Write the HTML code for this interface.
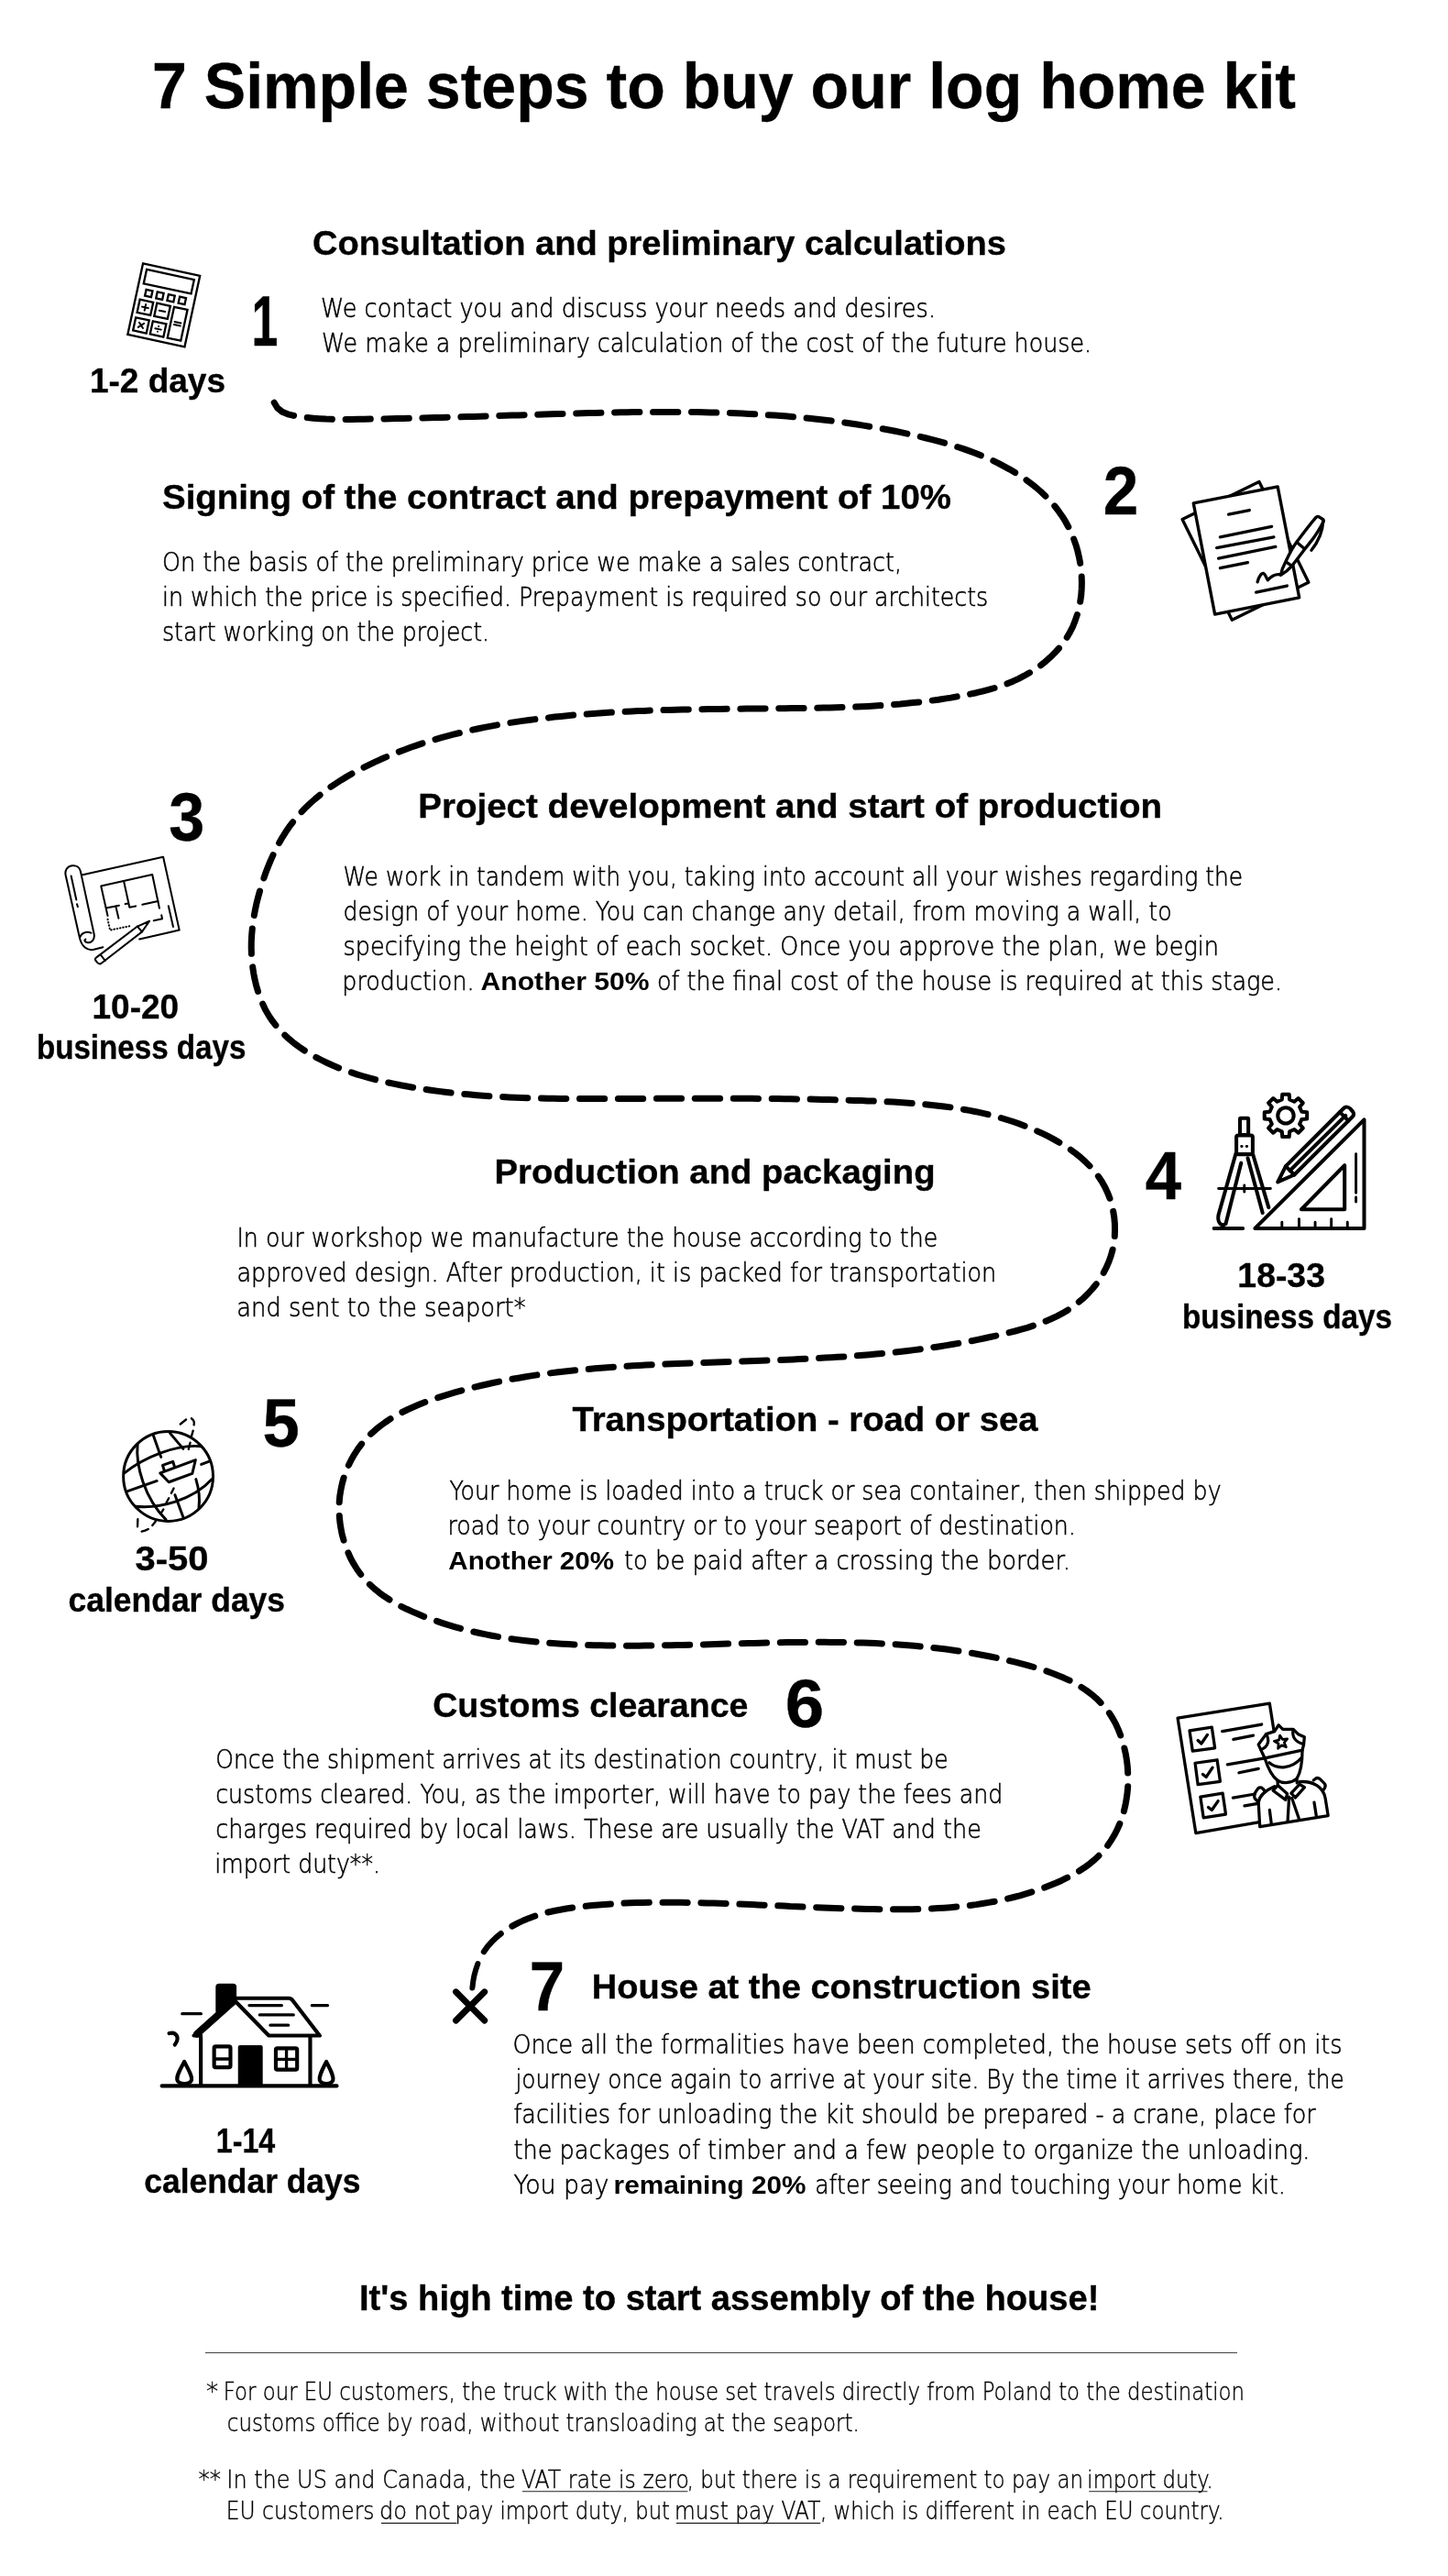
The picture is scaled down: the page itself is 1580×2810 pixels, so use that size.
<!DOCTYPE html>
<html lang="en"><head><meta charset="utf-8"><title>7 Simple steps to buy our log home kit</title>
<style>html,body{margin:0;padding:0;background:#fff}svg{display:block}text{font-family:"Liberation Sans",Arial,sans-serif;fill:#000;white-space:pre}svg{filter:grayscale(1)}.b{font-weight:700;stroke:#000;stroke-width:.35}.r{font-family:"DejaVu Sans Light","DejaVu Sans","Liberation Sans",sans-serif;font-weight:200;fill:#000;stroke:#000;stroke-width:.55}.k{font-weight:700}.f{stroke-width:.4}</style></head><body>
<svg width="1580" height="2810" viewBox="0 0 1580 2810">
<rect width="1580" height="2810" fill="#fff"/>
<g id="route" fill="none" stroke="#000" stroke-linecap="round" stroke-linejoin="round">
<path stroke-width="7.0" d="M299.2 439.2L302.7 445.0L307.9 449.2L314.1 451.8L320.6 453.4"/>
<path stroke-width="7.0" d="M335.2 455.6L342.0 456.2L348.8 456.7L355.6 457.1L362.4 457.3"/>
<path stroke-width="7.0" d="M377.1 457.4L383.9 457.4L390.7 457.3L397.5 457.2L404.3 457.1"/>
<path stroke-width="7.0" d="M419.0 456.9L425.8 456.7L432.6 456.6L439.4 456.4L446.3 456.3"/>
<path stroke-width="7.0" d="M460.9 455.9L467.8 455.8L474.6 455.6L481.4 455.4L488.2 455.2"/>
<path stroke-width="7.0" d="M502.9 454.8L509.7 454.6L516.5 454.4L523.3 454.2L530.1 454.0"/>
<path stroke-width="7.0" d="M544.8 453.5L551.6 453.3L558.4 453.1L565.2 452.9L572.1 452.7"/>
<path stroke-width="7.0" d="M586.7 452.2L593.5 452.0L600.4 451.8L607.2 451.6L614.0 451.4"/>
<path stroke-width="7.0" d="M628.7 451.0L635.5 450.8L642.3 450.6L649.1 450.4L655.9 450.3"/>
<path stroke-width="7.0" d="M670.6 450.0L677.4 449.8L684.2 449.7L691.0 449.6L697.9 449.5"/>
<path stroke-width="7.0" d="M712.5 449.4L719.4 449.4L726.2 449.4L733.0 449.4L739.8 449.4"/>
<path stroke-width="7.0" d="M754.5 449.5L761.3 449.6L768.1 449.8L774.9 449.9L781.8 450.1"/>
<path stroke-width="7.0" d="M796.4 450.5L803.2 450.8L810.0 451.1L816.9 451.4L823.7 451.8"/>
<path stroke-width="7.0" d="M838.3 452.7L845.1 453.1L851.9 453.6L858.7 454.1L865.5 454.7"/>
<path stroke-width="7.0" d="M880.1 456.1L886.9 456.8L893.7 457.5L900.5 458.3L907.2 459.1"/>
<path stroke-width="7.0" d="M921.8 461.0L928.5 462.0L935.3 463.0L942.0 464.1L948.7 465.2"/>
<path stroke-width="7.0" d="M963.2 467.8L969.9 469.0L976.6 470.3L983.2 471.7L989.9 473.1"/>
<path stroke-width="7.0" d="M1004.2 476.4L1010.9 478.0L1017.5 479.7L1024.1 481.4L1030.6 483.2"/>
<path stroke-width="7.0" d="M1044.7 487.5L1051.2 489.6L1057.6 491.9L1064.0 494.2L1070.3 496.8"/>
<path stroke-width="7.0" d="M1083.8 502.7L1089.9 505.6L1095.9 508.8L1101.9 512.1L1107.7 515.6"/>
<path stroke-width="7.0" d="M1120.0 523.7L1125.4 527.8L1130.8 532.0L1135.9 536.5L1140.9 541.2"/>
<path stroke-width="7.0" d="M1150.8 552.0L1155.0 557.4L1158.9 562.9L1162.5 568.7L1165.8 574.7"/>
<path stroke-width="7.0" d="M1171.7 588.1L1174.0 594.6L1175.9 601.1L1177.4 607.7L1178.7 614.4"/>
<path stroke-width="7.0" d="M1180.2 629.0L1180.4 635.8L1180.2 642.7L1179.7 649.5L1178.7 656.2"/>
<path stroke-width="7.0" d="M1175.4 670.5L1173.2 677.0L1170.7 683.3L1167.6 689.4L1164.2 695.3"/>
<path stroke-width="7.0" d="M1155.5 707.1L1151.0 712.1L1146.1 716.9L1141.0 721.4L1135.6 725.7"/>
<path stroke-width="7.0" d="M1123.5 733.8L1117.5 737.2L1111.5 740.3L1105.3 743.2L1099.0 745.8"/>
<path stroke-width="7.0" d="M1085.1 750.5L1078.5 752.4L1071.9 754.1L1065.3 755.7L1058.6 757.1"/>
<path stroke-width="7.0" d="M1044.2 759.9L1037.5 761.1L1030.8 762.1L1024.0 763.2L1017.3 764.1"/>
<path stroke-width="7.0" d="M1002.7 765.9L995.9 766.6L989.2 767.3L982.4 768.0L975.6 768.5"/>
<path stroke-width="7.0" d="M960.9 769.6L954.1 770.0L947.3 770.4L940.5 770.7L933.7 771.0"/>
<path stroke-width="7.0" d="M919.0 771.6L912.2 771.8L905.4 771.9L898.6 772.1L891.8 772.2"/>
<path stroke-width="7.0" d="M877.1 772.5L870.3 772.6L863.5 772.6L856.6 772.7L849.8 772.8"/>
<path stroke-width="7.0" d="M835.1 772.9L828.3 773.0L821.5 773.0L814.7 773.1L807.9 773.2"/>
<path stroke-width="7.0" d="M793.2 773.3L786.4 773.4L779.6 773.5L772.8 773.6L765.9 773.7"/>
<path stroke-width="7.0" d="M751.3 773.9L744.4 774.1L737.6 774.3L730.8 774.4L724.0 774.6"/>
<path stroke-width="7.0" d="M709.3 775.1L702.5 775.4L695.7 775.6L688.9 775.9L682.1 776.3"/>
<path stroke-width="7.0" d="M667.4 777.1L660.6 777.5L653.8 777.9L647.0 778.4L640.2 778.9"/>
<path stroke-width="7.0" d="M625.6 780.1L618.8 780.8L612.0 781.4L605.2 782.1L598.5 782.9"/>
<path stroke-width="7.0" d="M583.9 784.6L577.1 785.5L570.4 786.4L563.6 787.4L556.9 788.4"/>
<path stroke-width="7.0" d="M542.4 790.9L535.7 792.1L529.0 793.4L522.3 794.8L515.7 796.2"/>
<path stroke-width="7.0" d="M501.4 799.5L494.7 801.2L488.2 802.9L481.6 804.7L475.0 806.6"/>
<path stroke-width="7.0" d="M461.0 810.9L454.5 813.1L448.1 815.3L441.7 817.7L435.3 820.1"/>
<path stroke-width="7.0" d="M421.7 825.6L415.5 828.3L409.3 831.2L403.1 834.1L397.0 837.1"/>
<path stroke-width="7.0" d="M384.0 844.0L378.1 847.4L372.3 850.9L366.6 854.6L360.9 858.4"/>
<path stroke-width="7.0" d="M349.1 867.2L343.9 871.5L338.8 876.0L333.8 880.7L329.1 885.6"/>
<path stroke-width="7.0" d="M319.5 896.8L315.4 902.2L311.6 907.8L308.0 913.6L304.6 919.5"/>
<path stroke-width="7.0" d="M298.0 932.6L295.2 938.9L292.6 945.2L290.1 951.5L287.9 957.9"/>
<path stroke-width="7.0" d="M283.5 972.0L281.7 978.5L280.0 985.1L278.6 991.8L277.3 998.5"/>
<path stroke-width="7.0" d="M275.3 1013.0L274.7 1019.8L274.3 1026.6L274.2 1033.5L274.4 1040.3"/>
<path stroke-width="7.0" d="M275.7 1054.9L276.7 1061.6L278.0 1068.3L279.6 1075.0L281.5 1081.5"/>
<path stroke-width="7.0" d="M286.7 1095.2L289.6 1101.4L293.0 1107.3L296.7 1113.0L300.9 1118.4"/>
<path stroke-width="7.0" d="M310.8 1129.2L315.9 1133.8L321.1 1138.1L326.6 1142.1L332.3 1146.0"/>
<path stroke-width="7.0" d="M344.9 1153.4L351.0 1156.5L357.1 1159.5L363.3 1162.3L369.6 1164.9"/>
<path stroke-width="7.0" d="M383.4 1169.9L389.9 1172.1L396.4 1174.0L403.0 1175.9L409.6 1177.6"/>
<path stroke-width="7.0" d="M423.8 1181.0L430.5 1182.4L437.2 1183.8L443.9 1185.0L450.6 1186.2"/>
<path stroke-width="7.0" d="M465.1 1188.5L471.9 1189.5L478.6 1190.4L485.4 1191.2L492.1 1192.0"/>
<path stroke-width="7.0" d="M506.8 1193.5L513.5 1194.1L520.3 1194.7L527.1 1195.2L533.9 1195.7"/>
<path stroke-width="7.0" d="M548.6 1196.5L555.4 1196.9L562.2 1197.2L569.0 1197.4L575.8 1197.7"/>
<path stroke-width="7.0" d="M590.5 1198.0L597.3 1198.2L604.1 1198.3L611.0 1198.4L617.8 1198.5"/>
<path stroke-width="7.0" d="M632.5 1198.5L639.3 1198.6L646.1 1198.6L652.9 1198.5L659.7 1198.5"/>
<path stroke-width="7.0" d="M674.4 1198.5L681.2 1198.5L688.0 1198.4L694.9 1198.4L701.7 1198.4"/>
<path stroke-width="7.0" d="M716.4 1198.3L723.2 1198.3L730.0 1198.3L736.8 1198.2L743.6 1198.2"/>
<path stroke-width="7.0" d="M758.3 1198.2L765.1 1198.2L771.9 1198.2L778.8 1198.2L785.6 1198.2"/>
<path stroke-width="7.0" d="M800.3 1198.2L807.1 1198.3L813.9 1198.3L820.7 1198.3L827.5 1198.4"/>
<path stroke-width="7.0" d="M842.2 1198.5L849.0 1198.6L855.8 1198.7L862.6 1198.8L869.5 1198.9"/>
<path stroke-width="7.0" d="M884.1 1199.1L891.0 1199.3L897.8 1199.4L904.6 1199.6L911.4 1199.8"/>
<path stroke-width="7.0" d="M926.1 1200.2L932.9 1200.4L939.7 1200.6L946.5 1200.9L953.3 1201.1"/>
<path stroke-width="7.0" d="M968.0 1201.8L974.8 1202.1L981.6 1202.5L988.4 1203.0L995.2 1203.5"/>
<path stroke-width="7.0" d="M1009.8 1204.7L1016.6 1205.4L1023.4 1206.2L1030.2 1207.0L1036.9 1207.9"/>
<path stroke-width="7.0" d="M1051.4 1210.2L1058.1 1211.4L1064.8 1212.7L1071.5 1214.2L1078.1 1215.7"/>
<path stroke-width="7.0" d="M1092.3 1219.5L1098.8 1221.5L1105.3 1223.5L1111.8 1225.8L1118.1 1228.2"/>
<path stroke-width="7.0" d="M1131.7 1233.8L1137.9 1236.7L1144.0 1239.7L1150.0 1242.9L1155.9 1246.3"/>
<path stroke-width="7.0" d="M1168.3 1254.2L1173.8 1258.3L1179.1 1262.5L1184.2 1267.1L1189.0 1271.9"/>
<path stroke-width="7.0" d="M1198.4 1283.1L1202.2 1288.8L1205.6 1294.7L1208.5 1300.9L1211.0 1307.2"/>
<path stroke-width="7.0" d="M1214.7 1321.4L1215.8 1328.1L1216.4 1334.9L1216.5 1341.7L1216.3 1348.6"/>
<path stroke-width="7.0" d="M1214.1 1363.1L1212.3 1369.6L1210.0 1376.1L1207.3 1382.3L1204.2 1388.4"/>
<path stroke-width="7.0" d="M1196.2 1400.7L1191.9 1406.0L1187.3 1411.0L1182.5 1415.8L1177.3 1420.2"/>
<path stroke-width="7.0" d="M1165.4 1428.9L1159.6 1432.4L1153.6 1435.6L1147.4 1438.5L1141.1 1441.2"/>
<path stroke-width="7.0" d="M1127.4 1446.2L1120.9 1448.3L1114.3 1450.2L1107.7 1452.0L1101.1 1453.6"/>
<path stroke-width="7.0" d="M1086.8 1457.1L1080.2 1458.5L1073.5 1460.0L1066.9 1461.4L1060.2 1462.7"/>
<path stroke-width="7.0" d="M1045.7 1465.4L1039.0 1466.5L1032.3 1467.6L1025.6 1468.7L1018.8 1469.7"/>
<path stroke-width="7.0" d="M1004.3 1471.7L997.5 1472.6L990.7 1473.4L984.0 1474.2L977.2 1475.0"/>
<path stroke-width="7.0" d="M962.6 1476.4L955.8 1477.1L949.0 1477.7L942.2 1478.3L935.4 1478.8"/>
<path stroke-width="7.0" d="M920.8 1479.9L914.0 1480.3L907.2 1480.7L900.4 1481.1L893.6 1481.5"/>
<path stroke-width="7.0" d="M878.9 1482.3L872.1 1482.6L865.3 1482.9L858.5 1483.2L851.7 1483.5"/>
<path stroke-width="7.0" d="M837.0 1484.1L830.2 1484.3L823.4 1484.5L816.6 1484.8L809.7 1485.0"/>
<path stroke-width="7.0" d="M795.1 1485.5L788.3 1485.7L781.4 1486.0L774.6 1486.2L767.8 1486.4"/>
<path stroke-width="7.0" d="M753.1 1487.0L746.3 1487.2L739.5 1487.5L732.7 1487.8L725.9 1488.1"/>
<path stroke-width="7.0" d="M711.2 1488.7L704.4 1489.1L697.6 1489.4L690.8 1489.8L684.0 1490.2"/>
<path stroke-width="7.0" d="M669.4 1491.2L662.6 1491.7L655.8 1492.2L649.0 1492.8L642.2 1493.4"/>
<path stroke-width="7.0" d="M627.6 1494.8L620.8 1495.5L614.0 1496.2L607.2 1497.0L600.5 1497.9"/>
<path stroke-width="7.0" d="M585.9 1499.9L579.2 1500.9L572.5 1502.0L565.7 1503.2L559.0 1504.3"/>
<path stroke-width="7.0" d="M544.6 1507.1L537.9 1508.5L531.3 1510.0L524.6 1511.5L518.0 1513.1"/>
<path stroke-width="7.0" d="M503.8 1516.8L497.2 1518.7L490.7 1520.6L484.2 1522.6L477.7 1524.7"/>
<path stroke-width="7.0" d="M463.8 1529.5L457.5 1532.0L451.2 1534.7L445.0 1537.5L438.9 1540.5"/>
<path stroke-width="7.0" d="M426.1 1547.7L420.4 1551.5L414.9 1555.5L409.6 1559.8L404.5 1564.3"/>
<path stroke-width="7.0" d="M394.6 1575.1L390.5 1580.6L386.8 1586.3L383.4 1592.2L380.4 1598.3"/>
<path stroke-width="7.0" d="M375.1 1612.0L373.3 1618.5L371.9 1625.2L370.8 1632.0L370.2 1638.7"/>
<path stroke-width="7.0" d="M370.3 1653.4L370.9 1660.2L371.9 1666.9L373.2 1673.6L375.0 1680.2"/>
<path stroke-width="7.0" d="M380.0 1694.0L382.8 1700.2L386.1 1706.2L389.7 1712.0L393.7 1717.5"/>
<path stroke-width="7.0" d="M403.4 1728.4L408.5 1733.0L413.8 1737.3L419.3 1741.3L425.0 1745.0"/>
<path stroke-width="7.0" d="M437.8 1752.3L443.9 1755.3L450.1 1758.1L456.4 1760.8L462.7 1763.4"/>
<path stroke-width="7.0" d="M476.5 1768.4L482.9 1770.6L489.4 1772.7L495.9 1774.6L502.5 1776.4"/>
<path stroke-width="7.0" d="M516.8 1780.0L523.4 1781.5L530.1 1782.9L536.8 1784.2L543.5 1785.4"/>
<path stroke-width="7.0" d="M558.0 1787.7L564.7 1788.6L571.5 1789.5L578.3 1790.3L585.1 1791.0"/>
<path stroke-width="7.0" d="M599.7 1792.2L606.5 1792.7L613.3 1793.2L620.1 1793.6L626.9 1793.9"/>
<path stroke-width="7.0" d="M641.6 1794.5L648.4 1794.7L655.2 1794.8L662.0 1795.0L668.8 1795.1"/>
<path stroke-width="7.0" d="M683.5 1795.2L690.3 1795.2L697.1 1795.2L704.0 1795.1L710.8 1795.1"/>
<path stroke-width="7.0" d="M725.5 1794.8L732.3 1794.7L739.1 1794.6L745.9 1794.4L752.7 1794.3"/>
<path stroke-width="7.0" d="M767.4 1793.9L774.2 1793.7L781.0 1793.5L787.8 1793.3L794.6 1793.1"/>
<path stroke-width="7.0" d="M809.3 1792.7L816.1 1792.6L823.0 1792.4L829.8 1792.2L836.6 1792.0"/>
<path stroke-width="7.0" d="M851.3 1791.7L858.1 1791.6L864.9 1791.5L871.7 1791.4L878.5 1791.4"/>
<path stroke-width="7.0" d="M893.2 1791.3L900.0 1791.3L906.8 1791.4L913.7 1791.4L920.5 1791.5"/>
<path stroke-width="7.0" d="M935.2 1791.9L942.0 1792.1L948.8 1792.3L955.6 1792.6L962.4 1792.9"/>
<path stroke-width="7.0" d="M977.1 1793.8L983.9 1794.2L990.7 1794.8L997.4 1795.3L1004.2 1795.9"/>
<path stroke-width="7.0" d="M1018.8 1797.5L1025.6 1798.3L1032.4 1799.1L1039.1 1800.0L1045.9 1801.0"/>
<path stroke-width="7.0" d="M1060.4 1803.3L1067.1 1804.5L1073.8 1805.7L1080.5 1807.0L1087.2 1808.4"/>
<path stroke-width="7.0" d="M1101.5 1811.6L1108.1 1813.2L1114.7 1814.9L1121.3 1816.6L1127.9 1818.5"/>
<path stroke-width="7.0" d="M1141.9 1822.9L1148.3 1825.2L1154.6 1827.7L1160.9 1830.3L1167.1 1833.2"/>
<path stroke-width="7.0" d="M1179.9 1840.4L1185.6 1844.1L1191.0 1848.2L1196.2 1852.6L1201.1 1857.4"/>
<path stroke-width="7.0" d="M1210.4 1868.7L1214.1 1874.5L1217.4 1880.4L1220.2 1886.6L1222.7 1893.0"/>
<path stroke-width="7.0" d="M1226.9 1907.0L1228.4 1913.7L1229.5 1920.4L1230.3 1927.2L1230.7 1934.0"/>
<path stroke-width="7.0" d="M1230.7 1948.7L1230.1 1955.5L1229.2 1962.2L1228.0 1968.9L1226.4 1975.6"/>
<path stroke-width="7.0" d="M1221.8 1989.5L1219.1 1995.7L1215.9 2001.8L1212.4 2007.6L1208.6 2013.2"/>
<path stroke-width="7.0" d="M1199.0 2024.3L1194.0 2029.0L1188.7 2033.3L1183.2 2037.3L1177.5 2041.0"/>
<path stroke-width="7.0" d="M1164.7 2048.2L1158.6 2051.2L1152.3 2054.0L1146.0 2056.6L1139.7 2059.1"/>
<path stroke-width="7.0" d="M1125.8 2063.9L1119.3 2065.9L1112.8 2067.8L1106.2 2069.5L1099.6 2071.1"/>
<path stroke-width="7.0" d="M1085.2 2074.2L1078.5 2075.4L1071.8 2076.5L1065.0 2077.6L1058.3 2078.5"/>
<path stroke-width="7.0" d="M1043.7 2080.1L1036.9 2080.7L1030.1 2081.2L1023.3 2081.6L1016.5 2082.0"/>
<path stroke-width="7.0" d="M1001.8 2082.5L995.0 2082.7L988.2 2082.8L981.4 2082.8L974.5 2082.8"/>
<path stroke-width="7.0" d="M959.9 2082.7L953.0 2082.6L946.2 2082.5L939.4 2082.3L932.6 2082.1"/>
<path stroke-width="7.0" d="M917.9 2081.7L911.1 2081.4L904.3 2081.2L897.5 2080.9L890.7 2080.7"/>
<path stroke-width="7.0" d="M876.0 2080.0L869.2 2079.7L862.4 2079.5L855.6 2079.1L848.8 2078.8"/>
<path stroke-width="7.0" d="M834.1 2078.2L827.3 2077.9L820.5 2077.6L813.7 2077.3L806.9 2077.1"/>
<path stroke-width="7.0" d="M792.2 2076.5L785.4 2076.3L778.6 2076.1L771.7 2075.9L764.9 2075.7"/>
<path stroke-width="7.0" d="M750.2 2075.4L743.4 2075.3L736.6 2075.2L729.8 2075.2L723.0 2075.2"/>
<path stroke-width="7.0" d="M708.3 2075.3L701.5 2075.4L694.7 2075.6L687.9 2075.8L681.0 2076.1"/>
<path stroke-width="7.0" d="M666.4 2076.9L659.6 2077.4L652.8 2078.0L646.0 2078.6L639.2 2079.3"/>
<path stroke-width="7.0" d="M624.6 2081.0L617.9 2082.0L611.2 2083.2L604.5 2084.5L597.9 2086.0"/>
<path stroke-width="6.9" d="M583.8 2090.1L577.3 2092.4L571.0 2095.0L564.9 2097.9L558.8 2101.1"/>
<path stroke-width="6.4" d="M546.6 2109.2L541.4 2113.5L536.5 2118.3L532.0 2123.4L528.0 2129.0"/>
<path stroke-width="6.0" d="M521.4 2142.0L519.2 2148.5L517.4 2155.1L516.2 2161.8L515.4 2168.5"/>
</g>
<g id="icons"><g transform="translate(120,275) scale(0.08287) translate(435,150) rotate(12.19)" fill="none" stroke="#000" stroke-width="28">
<rect x="0" y="0" width="767" height="956"/>
<rect x="64" y="66" width="639" height="190"/>
<rect x="114" y="326" width="85" height="85"/><rect x="264" y="326" width="85" height="85"/><rect x="414" y="326" width="85" height="85"/><rect x="565" y="326" width="85" height="85"/>
<rect x="60" y="472" width="180" height="174"/><rect x="290" y="472" width="180" height="174"/><rect x="521" y="472" width="180" height="417"/>
<rect x="57" y="714" width="180" height="174"/><rect x="287" y="714" width="180" height="174"/>
<path stroke-width="24" stroke-linecap="round" d="M108 559H192M150 517V601M340 559H420M568 662H654M568 700H654M115 769L179 833M179 769L115 833M337 801H417"/>
<path stroke-width="24" stroke-linecap="round" d="M377 766v1M377 836v1"/>
</g>
<g transform="translate(1260,500) scale(0.15193)" fill="#fff" stroke="#000" stroke-width="22" stroke-linejoin="round" stroke-linecap="round">
<polygon points="198,438 750,168 1105,890 555,1160"/>
<polygon points="278,322 883,203 1038,1000 432,1120"/>
<path fill="none" d="M530 402L680 372M470 565L840 490M445 642L855 565M458 718L868 635M470 788L668 748M728 962L950 915"/>
<path fill="none" d="M738 888C748 850 765 822 782 826C798 832 800 862 812 874C832 850 862 828 902 834"/>
<path d="M905 838C912 800 925 770 940 742C965 690 990 640 1022 598C1065 540 1110 480 1158 424C1165 416 1172 416 1180 420L1205 436C1214 442 1214 450 1210 458C1185 505 1165 540 1138 575C1115 605 1095 630 1075 655C1045 695 1015 735 985 772C960 800 935 820 905 838Z"/>
<path fill="none" d="M1020 602L1075 648M945 745L985 772M1210 447C1206 520 1180 592 1125 660"/>
</g>
<g transform="translate(60,925) scale(0.10359)" fill="none" stroke="#000" stroke-width="19.5" stroke-linejoin="round" stroke-linecap="round">
<path d="M282 285L1140 95L1310 865L890 960"/>
<path d="M270 250C262 205 225 180 180 186C130 192 100 235 113 290L258 940C280 1040 340 1085 410 1070L505 1045"/>
<path d="M270 250L410 900C425 965 385 1000 345 997C312 993 305 968 322 962"/>
<path d="M262 945C270 900 330 870 380 895"/>
<path d="M170 295L225 545M232 592L240 620"/>
<path d="M555 715L485 400L1025 280L1100 635"/>
<path d="M725 350L785 625L850 612M920 597L1085 560M740 590L775 584M540 632L675 605M640 612L670 740"/>
<path stroke-dasharray="6 26" d="M555 750L580 865L800 820"/>
<path d="M1040 765L1130 745L1122 708M1195 610L1245 830"/>
<path fill="#fff" d="M868 826L995 770L917 882L492 1212C478 1224 462 1222 450 1210L428 1185C420 1172 424 1160 440 1150Z"/>
<path d="M868 826L917 882M485 1130L528 1186"/>
</g>
<g transform="translate(1260,1180) scale(0.20717)" fill="none" stroke="#000" stroke-width="19.5" stroke-linejoin="round" stroke-linecap="round">
<rect x="449" y="192" width="44" height="88" rx="4"/>
<rect x="430" y="282" width="86" height="100" rx="10"/>
<path stroke-width="14" d="M457 340h2M484 340h2"/>
<path d="M428 375L336 700C330 730 340 750 358 756L374 748L455 428"/>
<path d="M518 385L600 662M490 402L568 690"/>
<path stroke-width="14" d="M336 562H610M472 545V580"/>
<path d="M312 772H464"/>
<path d="M774 158L802 160L802 196L774 198L763 223L781 244L756 269L735 251L710 262L708 290L672 290L670 262L645 251L624 269L599 244L617 223L606 198L578 196L578 160L606 158L617 133L599 112L624 87L645 105L670 94L672 66L708 66L710 94L735 105L756 87L781 112L763 133Z"/>
<circle cx="690" cy="178" r="42"/>
<path d="M690 445L995 140C1005 130 1020 132 1030 142L1042 156C1050 166 1050 176 1040 186L735 490L648 528Z"/>
<path d="M690 445L735 490M712 468L1005 178M975 160L1020 205"/>
<path d="M528 772L1103 200V772Z"/>
<path d="M772 672L1000 440V672Z"/>
<path stroke-width="14" d="M670 772V740M760 772V722M845 772V740M930 772V722M1015 772V740M1060 380V585M1060 608V632"/>
</g>
<g transform="translate(120,1540) scale(0.08978)" fill="none" stroke="#000" stroke-width="33" stroke-linecap="round" stroke-linejoin="round">
<circle cx="708" cy="785" r="545"/>
<path d="M175 745C400 560 800 390 1110 420"/>
<path d="M310 1150C600 1180 1000 1080 1240 820"/>
<path d="M215 965L570 840M1110 640L1200 605"/>
<path d="M335 400C310 650 420 1050 680 1310"/>
<path d="M525 280L620 550M730 260L890 450M790 1010L890 1280"/>
<path d="M1045 820C1085 950 1095 1050 1080 1170"/>
<path d="M610 745L1040 585L1000 750L715 855ZM660 712L640 650L765 605L785 668"/>
<path stroke-width="26" d="M855 150L925 95M990 80C1020 100 1028 130 1020 160M1010 230L990 300M975 375L955 455M775 930L745 990M715 1050L685 1105M650 1185L615 1240M555 1330L515 1380M465 1425C440 1440 415 1450 385 1455M335 1395L338 1305"/>
</g>
<g transform="translate(1260,1840) scale(0.15193)" fill="none" stroke="#000" stroke-width="21.5" stroke-linecap="round" stroke-linejoin="round">
<path d="M752 972L295 1050L165 225L825 120L855 310"/>
<polygon points="250,315 410,290 432,440 272,462"/><polygon points="290,548 448,525 470,680 310,702"/><polygon points="328,790 488,765 510,915 350,940"/>
<path d="M310 385L335 408L378 345M345 628L370 648L415 580M385 865L410 885L455 820"/>
<path d="M485 320L768 270M565 378L708 350M522 558L790 512M605 617L745 588M562 797L720 770M645 855L740 838"/>
<path d="M790 512L1060 455M790 512L770 470L745 415L800 340L860 320L890 275L920 305H995L1030 340L1075 360L1070 415L1060 455"/>
<path d="M800 340C825 380 820 430 762 452M995 308C985 355 1005 395 1066 410"/>
<path stroke-width="18" d="M899 349L918 378L952 375L930 401L944 433L912 420L886 443L889 408L858 391L892 383Z"/>
<path d="M790 512C815 590 850 650 882 672C925 700 985 690 1020 660C1045 620 1060 540 1060 455"/>
<path d="M822 545C880 595 985 590 1052 512"/>
<path d="M882 672L884 705M1020 660L1022 690"/>
<path d="M850 745L884 708L952 768L940 812ZM980 765L1040 700L1076 722L1010 796Z"/>
<path d="M860 715C790 745 750 790 745 830L755 1005L1245 925L1225 800C1210 720 1140 675 1040 682"/>
<path d="M745 830L718 800C710 785 715 770 725 755L742 730C750 722 765 722 775 730L790 748M1140 672L1155 660C1165 652 1178 655 1190 665L1215 690C1228 702 1228 715 1220 728L1208 745"/>
<path d="M825 885L838 985M1145 830L1160 925M965 790L955 965M985 800L1035 945"/>
</g>
<g transform="translate(140,2130) scale(0.20717)" fill="none" stroke="#000" stroke-width="20" stroke-linecap="round" stroke-linejoin="round">
<path d="M177 702H1098"/>
<rect x="470" y="173" width="90" height="140" rx="8" fill="#000"/>
<path d="M352 436L560 248L745 437L385 437Z" fill="#fff" stroke="none"/>
<path stroke-width="38" d="M362 428L552 258"/>
<path d="M560 240H845C855 240 860 244 866 252L1008 437H740L560 252"/>
<path stroke-width="16" d="M637 278H808M692 328H870M748 382H843M284 322H383M967 278H1050"/>
<path d="M382 445V700M958 445V700M345 437H382"/>
<path d="M588 497H698V700H588Z" fill="#000"/>
<rect x="452" y="494" width="86" height="110" rx="8"/><path stroke-width="16" d="M452 560H538"/>
<rect x="777" y="504" width="112" height="112" rx="8"/><path stroke-width="16" d="M833 504V616M777 562H889"/>
<path d="M295 574C270 620 252 650 258 672C266 696 325 696 333 672C338 650 318 620 295 574Z"/>
<path d="M1043 574C1020 620 1003 650 1008 672C1016 696 1070 696 1078 672C1083 650 1066 620 1043 574Z"/>
<path d="M215 425C250 415 275 445 245 485"/>
</g>
<path d="M497.5 2172.8L528.7 2204M528.7 2172.8L497.5 2204" stroke="#000" stroke-width="6.9" stroke-linecap="round" fill="none"/></g>
<g id="texts">
<text id="title" class="b" x="165.99" y="118.0" font-size="70.5" textLength="1248.01" lengthAdjust="spacingAndGlyphs">7 Simple steps to buy our log home kit</text>
<text id="h1" class="b" x="340.99" y="278.0" font-size="37.5" textLength="757.01" lengthAdjust="spacingAndGlyphs">Consultation and preliminary calculations</text>
<text id="b1a" class="r" x="349.99" y="346.0" font-size="29" textLength="671.03" lengthAdjust="spacingAndGlyphs">We contact you and discuss your needs and desires.</text>
<text id="b1b" class="r" x="351.00" y="384.0" font-size="29" textLength="840.03" lengthAdjust="spacingAndGlyphs">We make a preliminary calculation of the cost of the future house.</text>
<text id="d1" class="b" x="97.95" y="428.0" font-size="37" textLength="148.09" lengthAdjust="spacingAndGlyphs">1-2 days</text>
<text id="n1" class="b" x="274.40" y="377.0" font-size="78" textLength="28.80" lengthAdjust="spacingAndGlyphs">1</text>
<text id="h2" class="b" x="177.00" y="554.6" font-size="37.5" textLength="861.00" lengthAdjust="spacingAndGlyphs">Signing of the contract and prepayment of 10%</text>
<text id="b2a" class="r" x="176.99" y="622.6" font-size="29" textLength="807.03" lengthAdjust="spacingAndGlyphs">On the basis of the preliminary price we make a sales contract,</text>
<text id="b2b" class="r" x="176.98" y="660.7" font-size="29" textLength="901.21" lengthAdjust="spacingAndGlyphs">in which the price is specified. Prepayment is required so our architects</text>
<text id="b2c" class="r" x="176.97" y="698.6" font-size="29" textLength="357.07" lengthAdjust="spacingAndGlyphs">start working on the project.</text>
<text id="n2" class="b" x="1203.73" y="561.0" font-size="75" textLength="38.53" lengthAdjust="spacingAndGlyphs">2</text>
<text id="h3" class="b" x="456.19" y="891.8" font-size="37.5" textLength="811.86" lengthAdjust="spacingAndGlyphs">Project development and start of production</text>
<text id="b3a" class="r" x="374.40" y="965.6" font-size="29" textLength="981.81" lengthAdjust="spacingAndGlyphs">We work in tandem with you, taking into account all your wishes regarding the</text>
<text id="b3b" class="r" x="374.40" y="1003.8" font-size="29" textLength="904.20" lengthAdjust="spacingAndGlyphs">design of your home. You can change any detail, from moving a wall, to</text>
<text id="b3c" class="r" x="374.40" y="1042.0" font-size="29" textLength="955.62" lengthAdjust="spacingAndGlyphs">specifying the height of each socket. Once you approve the plan, we begin</text>
<text id="b3d1" class="r" x="373.29" y="1080.4" font-size="29" textLength="144.24" lengthAdjust="spacingAndGlyphs">production.</text>
<text id="b3d2" class="k" x="524.59" y="1080.4" font-size="28.5" textLength="184.05" lengthAdjust="spacingAndGlyphs">Another 50%</text>
<text id="b3d3" class="r" x="716.99" y="1080.4" font-size="29" textLength="682.03" lengthAdjust="spacingAndGlyphs">of the final cost of the house is required at this stage.</text>
<text id="n3" class="b" x="184.23" y="916.8" font-size="75" textLength="38.99" lengthAdjust="spacingAndGlyphs">3</text>
<text id="d3a" class="b" x="100.56" y="1111.2" font-size="37" textLength="94.51" lengthAdjust="spacingAndGlyphs">10-20</text>
<text id="d3b" class="b" x="39.91" y="1154.9" font-size="37" textLength="228.50" lengthAdjust="spacingAndGlyphs">business days</text>
<text id="h4" class="b" x="539.54" y="1290.6" font-size="37.5" textLength="481.04" lengthAdjust="spacingAndGlyphs">Production and packaging</text>
<text id="b4a" class="r" x="258.38" y="1360.2" font-size="29" textLength="764.84" lengthAdjust="spacingAndGlyphs">In our workshop we manufacture the house according to the</text>
<text id="b4b" class="r" x="258.40" y="1398.3" font-size="29" textLength="828.83" lengthAdjust="spacingAndGlyphs">approved design. After production, it is packed for transportation</text>
<text id="b4c" class="r" x="258.36" y="1436.0" font-size="29" textLength="315.21" lengthAdjust="spacingAndGlyphs">and sent to the seaport*</text>
<text id="n4" class="b" x="1249.70" y="1308.4" font-size="75" textLength="39.30" lengthAdjust="spacingAndGlyphs">4</text>
<text id="d4a" class="b" x="1350.37" y="1404.2" font-size="37" textLength="95.59" lengthAdjust="spacingAndGlyphs">18-33</text>
<text id="d4b" class="b" x="1289.95" y="1449.3" font-size="37" textLength="229.03" lengthAdjust="spacingAndGlyphs">business days</text>
<text id="h5" class="b" x="624.40" y="1560.6" font-size="37.5" textLength="508.20" lengthAdjust="spacingAndGlyphs">Transportation - road or sea</text>
<text id="b5a" class="r" x="490.39" y="1635.6" font-size="29" textLength="842.21" lengthAdjust="spacingAndGlyphs">Your home is loaded into a truck or sea container, then shipped by</text>
<text id="b5b" class="r" x="488.38" y="1673.7" font-size="29" textLength="685.50" lengthAdjust="spacingAndGlyphs">road to your country or to your seaport of destination.</text>
<text id="b5c1" class="k" x="489.38" y="1711.8" font-size="28.5" textLength="180.60" lengthAdjust="spacingAndGlyphs">Another 20%</text>
<text id="b5c2" class="r" x="680.99" y="1711.8" font-size="29" textLength="486.84" lengthAdjust="spacingAndGlyphs">to be paid after a crossing the border.</text>
<text id="n5" class="b" x="286.52" y="1577.5" font-size="75" textLength="40.29" lengthAdjust="spacingAndGlyphs">5</text>
<text id="d5a" class="b" x="147.52" y="1712.5" font-size="37" textLength="79.91" lengthAdjust="spacingAndGlyphs">3-50</text>
<text id="d5b" class="b" x="74.58" y="1758.3" font-size="37" textLength="236.48" lengthAdjust="spacingAndGlyphs">calendar days</text>
<text id="h6" class="b" x="472.19" y="1872.6" font-size="37.5" textLength="344.22" lengthAdjust="spacingAndGlyphs">Customs clearance</text>
<text id="b6a" class="r" x="235.19" y="1928.6" font-size="29" textLength="799.44" lengthAdjust="spacingAndGlyphs">Once the shipment arrives at its destination country, it must be</text>
<text id="b6b" class="r" x="235.19" y="1966.6" font-size="29" textLength="859.03" lengthAdjust="spacingAndGlyphs">customs cleared. You, as the importer, will have to pay the fees and</text>
<text id="b6c" class="r" x="235.19" y="2004.6" font-size="29" textLength="835.61" lengthAdjust="spacingAndGlyphs">charges required by local laws. These are usually the VAT and the</text>
<text id="b6d" class="r" x="234.16" y="2043.0" font-size="29" textLength="180.80" lengthAdjust="spacingAndGlyphs">import duty**.</text>
<text id="n6" class="b" x="856.79" y="1884.2" font-size="75" textLength="42.47" lengthAdjust="spacingAndGlyphs">6</text>
<text id="h7" class="b" x="645.78" y="2180.0" font-size="37.5" textLength="544.86" lengthAdjust="spacingAndGlyphs">House at the construction site</text>
<text id="b7a" class="r" x="559.39" y="2239.6" font-size="29" textLength="905.22" lengthAdjust="spacingAndGlyphs">Once all the formalities have been completed, the house sets off on its</text>
<text id="b7b" class="r" x="562.40" y="2277.9" font-size="29" textLength="904.40" lengthAdjust="spacingAndGlyphs">journey once again to arrive at your site. By the time it arrives there, the</text>
<text id="b7c" class="r" x="560.40" y="2316.2" font-size="29" textLength="875.40" lengthAdjust="spacingAndGlyphs">facilities for unloading the kit should be prepared - a crane, place for</text>
<text id="b7d" class="r" x="560.40" y="2354.5" font-size="29" textLength="869.04" lengthAdjust="spacingAndGlyphs">the packages of timber and a few people to organize the unloading.</text>
<text id="b7e1" class="r" x="560.38" y="2392.8" font-size="29" textLength="104.06" lengthAdjust="spacingAndGlyphs">You pay</text>
<text id="b7e2" class="k" x="669.58" y="2392.8" font-size="28.5" textLength="209.90" lengthAdjust="spacingAndGlyphs">remaining 20%</text>
<text id="b7e3" class="r" x="889.19" y="2392.8" font-size="29" textLength="513.67" lengthAdjust="spacingAndGlyphs">after seeing and touching your home kit.</text>
<text id="n7" class="b" x="577.75" y="2192.6" font-size="76" textLength="38.34" lengthAdjust="spacingAndGlyphs">7</text>
<text id="d7a" class="b" x="235.73" y="2347.5" font-size="37" textLength="64.51" lengthAdjust="spacingAndGlyphs">1-14</text>
<text id="d7b" class="b" x="157.35" y="2392.0" font-size="37" textLength="236.08" lengthAdjust="spacingAndGlyphs">calendar days</text>
<text id="cta" class="b" x="391.97" y="2520.0" font-size="38" textLength="807.48" lengthAdjust="spacingAndGlyphs">It's high time to start assembly of the house!</text>
<text id="f1s" class="r f" x="224.96" y="2617.5" font-size="26.5" textLength="13.20" lengthAdjust="spacingAndGlyphs">*</text>
<text id="f1a" class="r f" x="243.79" y="2617.5" font-size="26.5" textLength="1114.22" lengthAdjust="spacingAndGlyphs">For our EU customers, the truck with the house set travels directly from Poland to the destination</text>
<text id="f1b" class="r f" x="247.79" y="2651.9" font-size="26.5" textLength="690.02" lengthAdjust="spacingAndGlyphs">customs office by road, without transloading at the seaport.</text>
<text id="f2s" class="r f" x="216.55" y="2713.6" font-size="26.5" textLength="24.55" lengthAdjust="spacingAndGlyphs">**</text>
<text id="f2a1" class="r f" x="247.34" y="2713.6" font-size="26.5" textLength="315.47" lengthAdjust="spacingAndGlyphs">In the US and Canada, the</text>
<text id="f2a2" class="r f" x="568.99" y="2713.6" font-size="26.5" textLength="182.83" lengthAdjust="spacingAndGlyphs">VAT rate is zero</text>
<text id="f2a3" class="r f" x="749.77" y="2713.6" font-size="26.5" textLength="432.29" lengthAdjust="spacingAndGlyphs">, but there is a requirement to pay an</text>
<text id="f2a4" class="r f" x="1186.34" y="2713.6" font-size="26.5" textLength="137.39" lengthAdjust="spacingAndGlyphs">import duty.</text>
<text id="f2b1" class="r f" x="246.77" y="2748.0" font-size="26.5" textLength="161.69" lengthAdjust="spacingAndGlyphs">EU customers</text>
<text id="f2b2" class="r f" x="413.94" y="2748.0" font-size="26.5" textLength="77.31" lengthAdjust="spacingAndGlyphs">do not</text>
<text id="f2b3" class="r f" x="496.40" y="2748.0" font-size="26.5" textLength="234.61" lengthAdjust="spacingAndGlyphs">pay import duty, but</text>
<text id="f2b4" class="r f" x="735.99" y="2748.0" font-size="26.5" textLength="159.41" lengthAdjust="spacingAndGlyphs">must pay VAT</text>
<text id="f2b5" class="r f" x="894.99" y="2748.0" font-size="26.5" textLength="440.67" lengthAdjust="spacingAndGlyphs">, which is different in each EU country.</text>
</g>
<g id="rules" stroke="#222" stroke-width="1.1">
<line x1="224" y1="2566.5" x2="1350" y2="2566.5" stroke="#444"/>
<line x1="570" y1="2717.8" x2="750.4" y2="2717.8"/>
<line x1="1188.2" y1="2717.8" x2="1317.5" y2="2717.8"/>
<line x1="416" y1="2752.4" x2="498.4" y2="2752.4"/>
<line x1="738" y1="2752.4" x2="895.2" y2="2752.4"/>
</g>
</svg></body></html>
